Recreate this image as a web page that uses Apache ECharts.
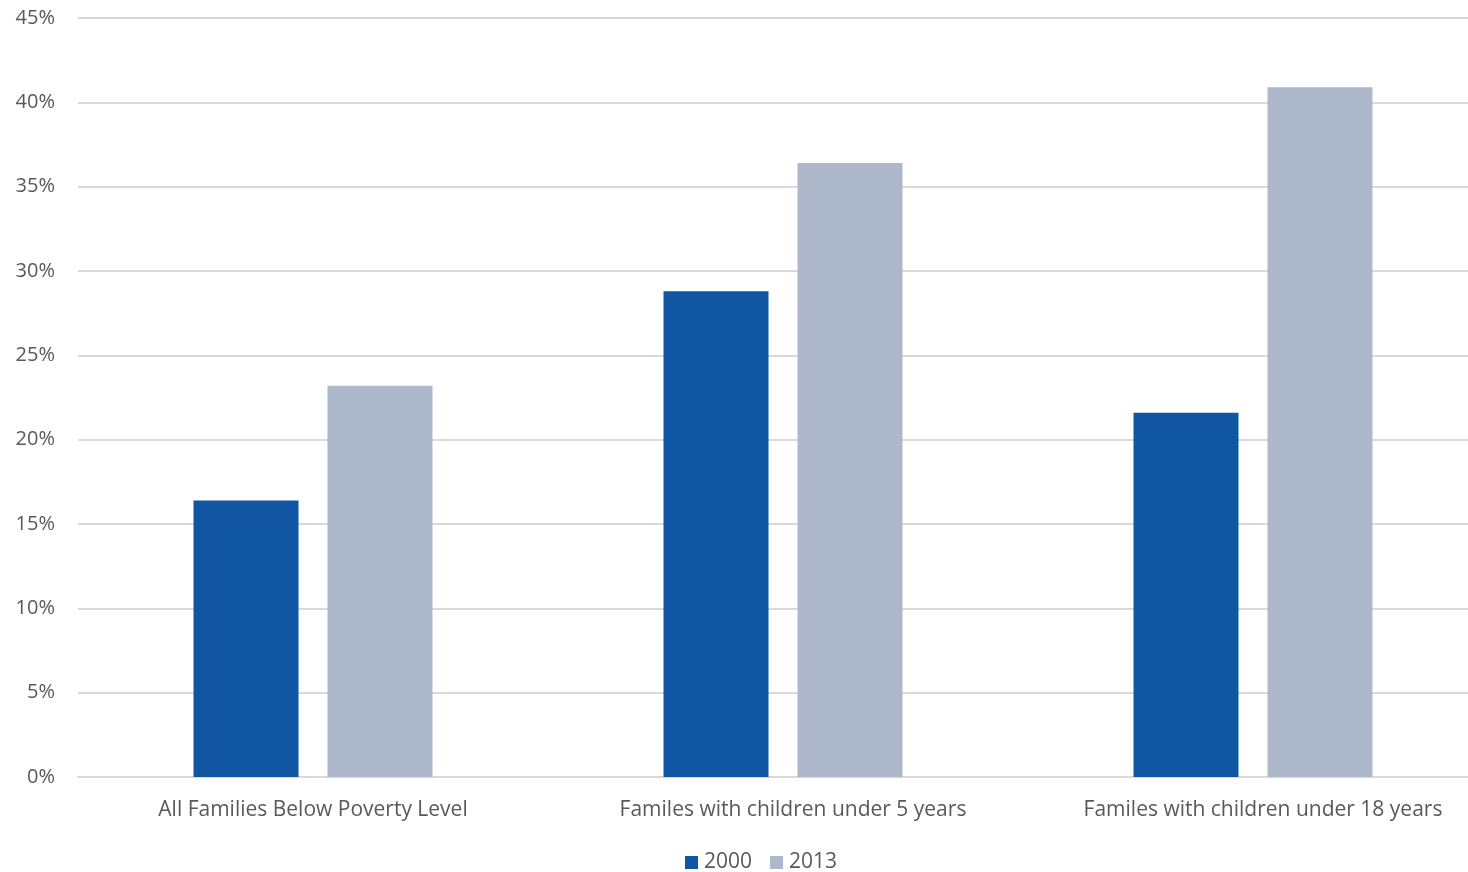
<!DOCTYPE html>
<html>
<head>
<meta charset="utf-8">
<script src="https://cdn.jsdelivr.net/npm/echarts@6/dist/echarts.min.js"></script>
<style>html,body{margin:0;padding:0;background:#fff;}#c{width:1468px;height:872px;}</style>
</head>
<body>
<div id="c"></div>
<script>
const categories = ['All Families Below Poverty Level', 'Familes with children under 5 years', 'Familes with children under 18 years'];
const seriesNames = ['2000', '2013'];
const values2000 = [16.4, 28.8, 21.6];
const values2013 = [23.2, 36.4, 40.9];
const colors = ['#1056a3', '#adb8ca'];

const chart = echarts.init(document.getElementById('c'), null, {renderer: 'canvas'});
const font = '"Open Sans", sans-serif';
chart.setOption({
  animation: false,
  textStyle: {fontFamily: font},
  grid: {left: 78, width: 1410, top: 18, bottom: 95, containLabel: false, outerBoundsMode: 'none'},
  legend: {
    data: seriesNames,
    top: 852,
    left: 685,
    itemWidth: 13, itemHeight: 13, itemGap: 18,
    icon: 'rect',
    padding: 0,
    textStyle: {fontSize: 21, color: '#595959', fontFamily: font, padding: [0, 0, 0, 1]}
  },
  xAxis: {
    type: 'category',
    data: categories,
    axisLine: {lineStyle: {color: '#d9d9d9', width: 2}},
    axisTick: {show: false},
    axisLabel: {
      fontSize: 21, color: '#595959', margin: 23, fontFamily: font, interval: 0,
      formatter: function (v, i) { return i > 0 ? '{s|' + v + '}' : v; },
      rich: {s: {fontSize: 21, color: '#595959', fontFamily: font, padding: [0, 0, 0, 20]}}
    }
  },
  yAxis: {
    type: 'value',
    min: 0, max: 45, interval: 5,
    axisLine: {show: false},
    axisTick: {show: false},
    splitLine: {lineStyle: {color: '#d9d9d9', width: 2}},
    axisLabel: {fontSize: 20, color: '#595959', margin: 23, formatter: '{value}%', fontFamily: font}
  },
  series: [
    {name: seriesNames[0], type: 'bar', data: values2000, itemStyle: {color: colors[0]}, barWidth: 105, barGap: '27.6%'},
    {name: seriesNames[1], type: 'bar', data: values2013, itemStyle: {color: colors[1]}, barWidth: 105, barGap: '27.6%'}
  ]
});
</script>
</body>
</html>
